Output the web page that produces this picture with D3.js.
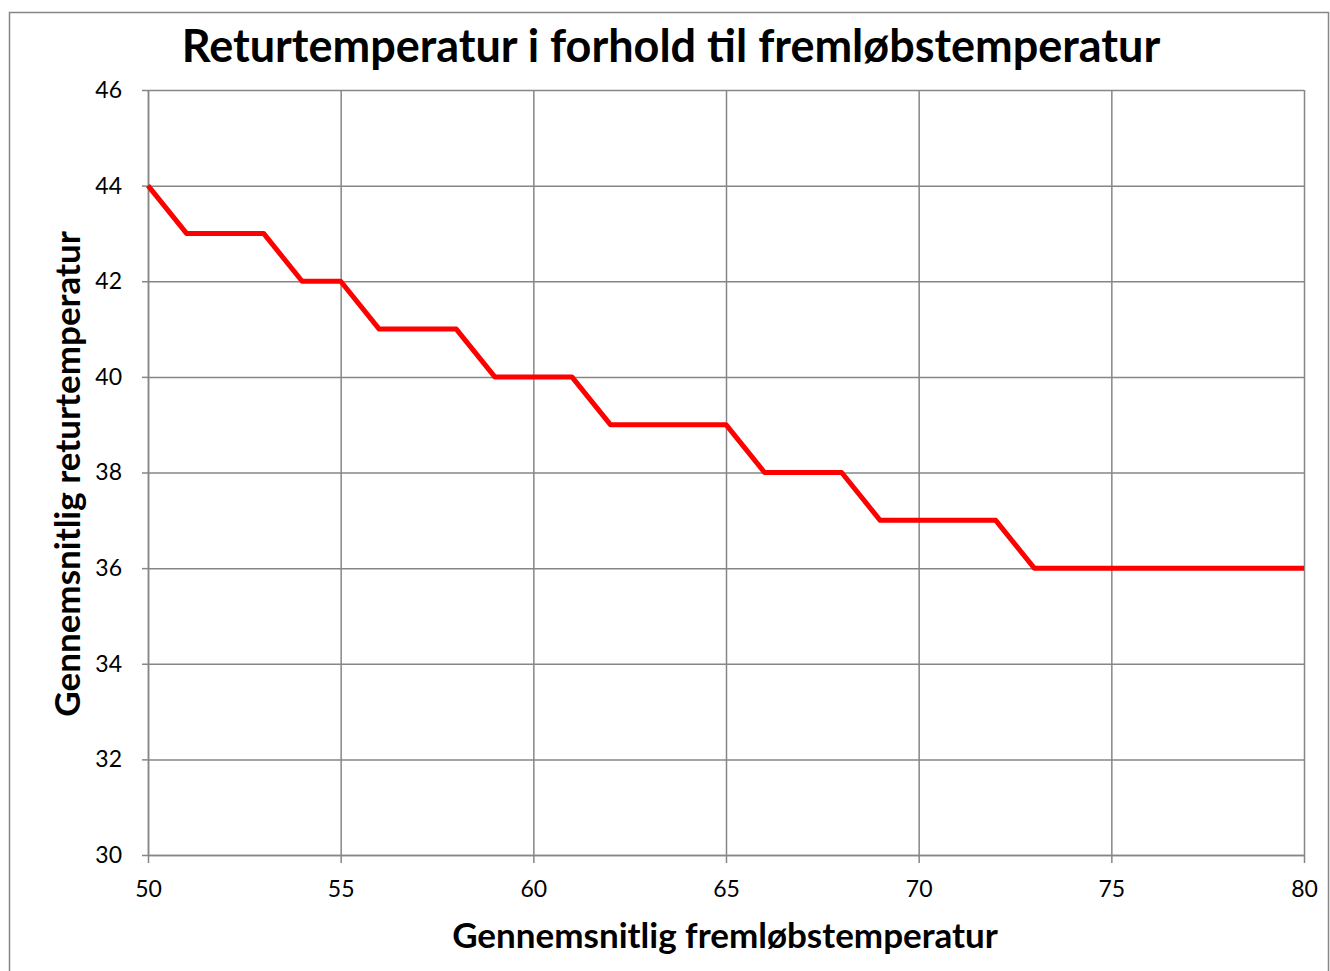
<!DOCTYPE html>
<html>
<head>
<meta charset="utf-8">
<script src="https://cdn.jsdelivr.net/npm/d3@7"></script>
<style>
  body { margin: 0; background: #fff; }
  svg { display: block; font-family: Lato, "Open Sans", sans-serif; }
</style>
</head>
<body>
<div id="container"><svg></svg></div>
<script>
// fremløbstemperatur (x) og returtemperatur (y)
let xValues = [50, 51, 52, 53, 54, 55, 56, 57, 58, 59, 60, 61, 62, 63, 64, 65,
               66, 67, 68, 69, 70, 71, 72, 73, 74, 75, 76, 77, 78, 79, 80];
let yValues = [44, 43, 43, 43, 42, 42, 41, 41, 41, 40, 40, 40, 39, 39, 39, 39,
               38, 38, 38, 37, 37, 37, 37, 36, 36, 36, 36, 36, 36, 36, 36];
let xTicks = [50, 55, 60, 65, 70, 75, 80];
let yTicks = [30, 32, 34, 36, 38, 40, 42, 44, 46];

let chartTitle = "Returtemperatur i forhold til fremløbstemperatur";
let xTitle = "Gennemsnitlig fremløbstemperatur";
let yTitle = "Gennemsnitlig returtemperatur";

let width = 1330;
let height = 971;
let plot = { left: 148, top: 90, right: 1304, bottom: 855 };

function draw_chart() {
    let svg = d3.select('#container')
        .select('svg')
        .attr('width', width)
        .attr('height', height);

    // ramme rundt om diagrammet
    svg.append("rect")
        .attr("x", 9.5)
        .attr("y", 12.5)
        .attr("width", 1319)
        .attr("height", 975)
        .attr("fill", "#fff")
        .attr("stroke", "#868686")
        .attr("stroke-width", 1.5);

    let x = d3.scaleLinear().domain([50, 80]).range([plot.left, plot.right]);
    let y = d3.scaleLinear().domain([30, 46]).range([plot.bottom, plot.top]);

    // gitterlinjer
    svg.append("g")
        .attr("transform", `translate(0,${plot.bottom})`)
        .call(d3.axisBottom(x).tickValues(xTicks).tickSize(-(plot.bottom - plot.top)).tickFormat(""))
        .call(g => g.select(".domain").remove())
        .call(g => g.selectAll("line").attr("stroke", "#868686").attr("stroke-width", 1.5));

    svg.append("g")
        .attr("transform", `translate(${plot.left},0)`)
        .call(d3.axisLeft(y).tickValues(yTicks).tickSize(-(plot.right - plot.left)).tickFormat(""))
        .call(g => g.select(".domain").remove())
        .call(g => g.selectAll("line").attr("stroke", "#868686").attr("stroke-width", 1.5));

    // akser
    let xAxis = svg.append("g")
        .attr("transform", `translate(0,${plot.bottom})`)
        .call(d3.axisBottom(x).tickValues(xTicks).tickSize(8).tickPadding(18).tickSizeOuter(0));
    xAxis.select(".domain").attr("stroke", "#868686").attr("stroke-width", 1.5);
    xAxis.selectAll("line").attr("stroke", "#868686").attr("stroke-width", 1.5);
    xAxis.selectAll("text").attr("font-size", 23).attr("fill", "#000")
        .attr("font-family", "Lato, sans-serif");

    let yAxis = svg.append("g")
        .attr("transform", `translate(${plot.left},0)`)
        .call(d3.axisLeft(y).tickValues(yTicks).tickSize(6).tickPadding(20).tickSizeOuter(0));
    yAxis.select(".domain").attr("stroke", "#868686").attr("stroke-width", 1.5);
    yAxis.selectAll("line").attr("stroke", "#868686").attr("stroke-width", 1.5);
    yAxis.selectAll("text").attr("font-size", 23).attr("fill", "#000")
        .attr("font-family", "Lato, sans-serif");

    // linje
    let points = xValues.map((v, i) => [v, yValues[i]]);
    let line = d3.line().x(d => x(d[0])).y(d => y(d[1]));
    svg.append("path")
        .datum(points)
        .attr("d", line)
        .attr("fill", "none")
        .attr("stroke", "#ff0000")
        .attr("stroke-width", 5)
        .attr("stroke-linejoin", "round");

    // titler
    svg.append("text")
        .attr("x", 671)
        .attr("y", 62)
        .attr("text-anchor", "middle")
        .attr("font-size", 45)
        .attr("font-weight", "bold")
        .text(chartTitle);

    svg.append("text")
        .attr("x", 725)
        .attr("y", 948)
        .attr("text-anchor", "middle")
        .attr("font-size", 35)
        .attr("font-weight", "bold")
        .text(xTitle);

    svg.append("text")
        .attr("transform", `translate(80,474) rotate(-90)`)
        .attr("text-anchor", "middle")
        .attr("font-size", 35)
        .attr("font-weight", "bold")
        .text(yTitle);
}

draw_chart();
</script>
</body>
</html>
